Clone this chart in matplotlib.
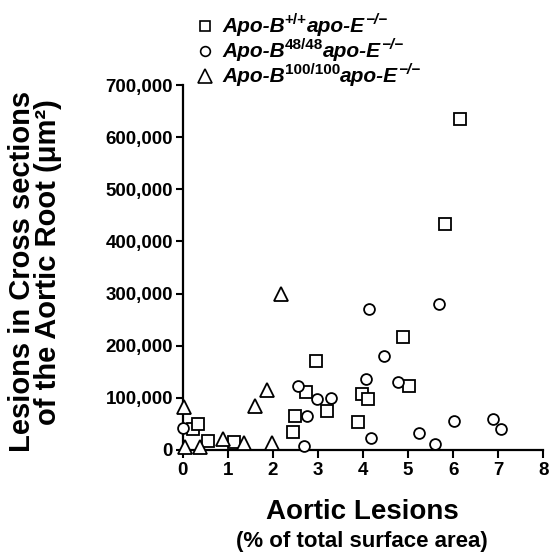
import matplotlib
matplotlib.use("Agg")
import matplotlib.pyplot as plt
from matplotlib.lines import Line2D

plt.rcParams['font.family'] = ['Liberation Sans', 'DejaVu Sans']

# Data (x: % aortic surface area, y: lesion area um^2)
wt_x = [0.23, 0.35, 0.56, 1.13, 2.45, 2.50, 2.74, 2.96, 3.21, 3.88, 3.97, 4.12, 4.88, 5.03, 5.82, 6.16]
wt_y = [39000, 50000, 16000, 15000, 34000, 65000, 110000, 170000, 74000, 52000, 106000, 98000, 216000, 123000, 434000, 635000]

b48_x = [0.0, 2.55, 2.68, 2.76, 2.98, 3.29, 4.06, 4.13, 4.18, 4.47, 4.77, 5.24, 5.60, 5.68, 6.02, 6.89, 7.07]
b48_y = [42000, 122000, 7000, 64000, 98000, 100000, 135000, 271000, 22000, 180000, 129000, 32000, 10000, 280000, 54000, 59000, 39000]

b100_x = [0.02, 0.04, 0.39, 0.89, 1.35, 1.61, 1.87, 1.98, 2.17]
b100_y = [82000, 5000, 5000, 21000, 12000, 83000, 114000, 12000, 300000]

x_ticks = [0, 1, 2, 3, 4, 5, 6, 7, 8]
y_ticks = [0, 100000, 200000, 300000, 400000, 500000, 600000, 700000]
y_ticklabels = ['0', '100,000', '200,000', '300,000', '400,000', '500,000', '600,000', '700,000']

W, H = 551, 559
fig = plt.figure(figsize=(W / 100, H / 100), dpi=100)
ax = fig.add_axes([182.7 / W, 1 - 449.5 / H, (543.3 - 182.7) / W, (449.5 - 85.5) / H])
ax.set_xlim(0, 8)
ax.set_ylim(0, 700000)

mk = dict(linestyle='none', markerfacecolor='white', markeredgecolor='black',
          markeredgewidth=1.3, clip_on=False)
ax.plot(wt_x, wt_y, marker='s', markersize=8.5, zorder=3, **mk)
ax.plot(b48_x, b48_y, marker='o', markersize=7.8, zorder=3, **mk)
ax.plot(b100_x, b100_y, marker='^', markersize=9.5, zorder=3, **mk)

for s in ['top', 'right']:
    ax.spines[s].set_visible(False)
for s in ['left', 'bottom']:
    ax.spines[s].set_linewidth(1.6)

ax.set_xticks(x_ticks)
ax.set_xticklabels([str(t) for t in x_ticks])
ax.set_yticks(y_ticks)
ax.set_yticklabels(y_ticklabels)
ax.tick_params(axis='both', direction='out', width=1.5, labelsize=13.5)
ax.tick_params(axis='x', length=6, pad=3)
ax.tick_params(axis='y', length=5, pad=2)
for lab in ax.get_xticklabels() + ax.get_yticklabels():
    lab.set_fontweight('bold')

# Axis titles
fig.text(362 / W, 1 - 512 / H, 'Aortic Lesions', ha='center', va='center',
         fontsize=20, fontweight='bold')
fig.text(362 / W, 1 - 541 / H, '(% of total surface area)', ha='center', va='center',
         fontsize=16, fontweight='bold')
fig.text(22 / W, 1 - 271 / H, 'Lesions in Cross sections', ha='center', va='center',
         rotation=90, fontsize=21, fontweight='bold')
fig.text(48 / W, 1 - 262 / H, 'of the Aortic Root (\u03bcm\u00b2)', ha='center', va='center',
         rotation=90, fontsize=21, fontweight='bold')

# Manual legend
rows = [
    ('s', 7.5, [('Apo-B', 0), ('+/+', 1), ('apo-E', 0), ('\u2212/\u2212', 2)]),
    ('o', 7.0, [('Apo-B', 0), ('48/48', 1), ('apo-E', 0), ('\u2212/\u2212', 2)]),
    ('^', 10.0, [('Apo-B', 0), ('100/100', 1), ('apo-E', 0), ('\u2212/\u2212', 2)]),
]
row_y = [26, 51, 76]
fig.canvas.draw()
renderer = fig.canvas.get_renderer()
for (m, ms, parts), yy in zip(rows, row_y):
    fig.add_artist(Line2D([205 / W], [1 - yy / H], marker=m, markersize=ms,
                          markerfacecolor='white', markeredgecolor='black',
                          markeredgewidth=1.2, linestyle='none',
                          transform=fig.transFigure))
    xpx = 222.0
    for txt, sup in parts:
        if sup:
            t = fig.text(xpx / W, 1 - (yy - 6) / H, txt, ha='left', va='center',
                         fontsize=11, fontweight='bold',
                         style='italic' if sup == 2 else 'normal')
        else:
            t = fig.text(xpx / W, 1 - (yy + 1) / H, txt, ha='left', va='center',
                         fontsize=15, fontweight='bold', style='italic')
        bb = t.get_window_extent(renderer=renderer)
        xpx += bb.width

fig.savefig('out.png', dpi=100)
